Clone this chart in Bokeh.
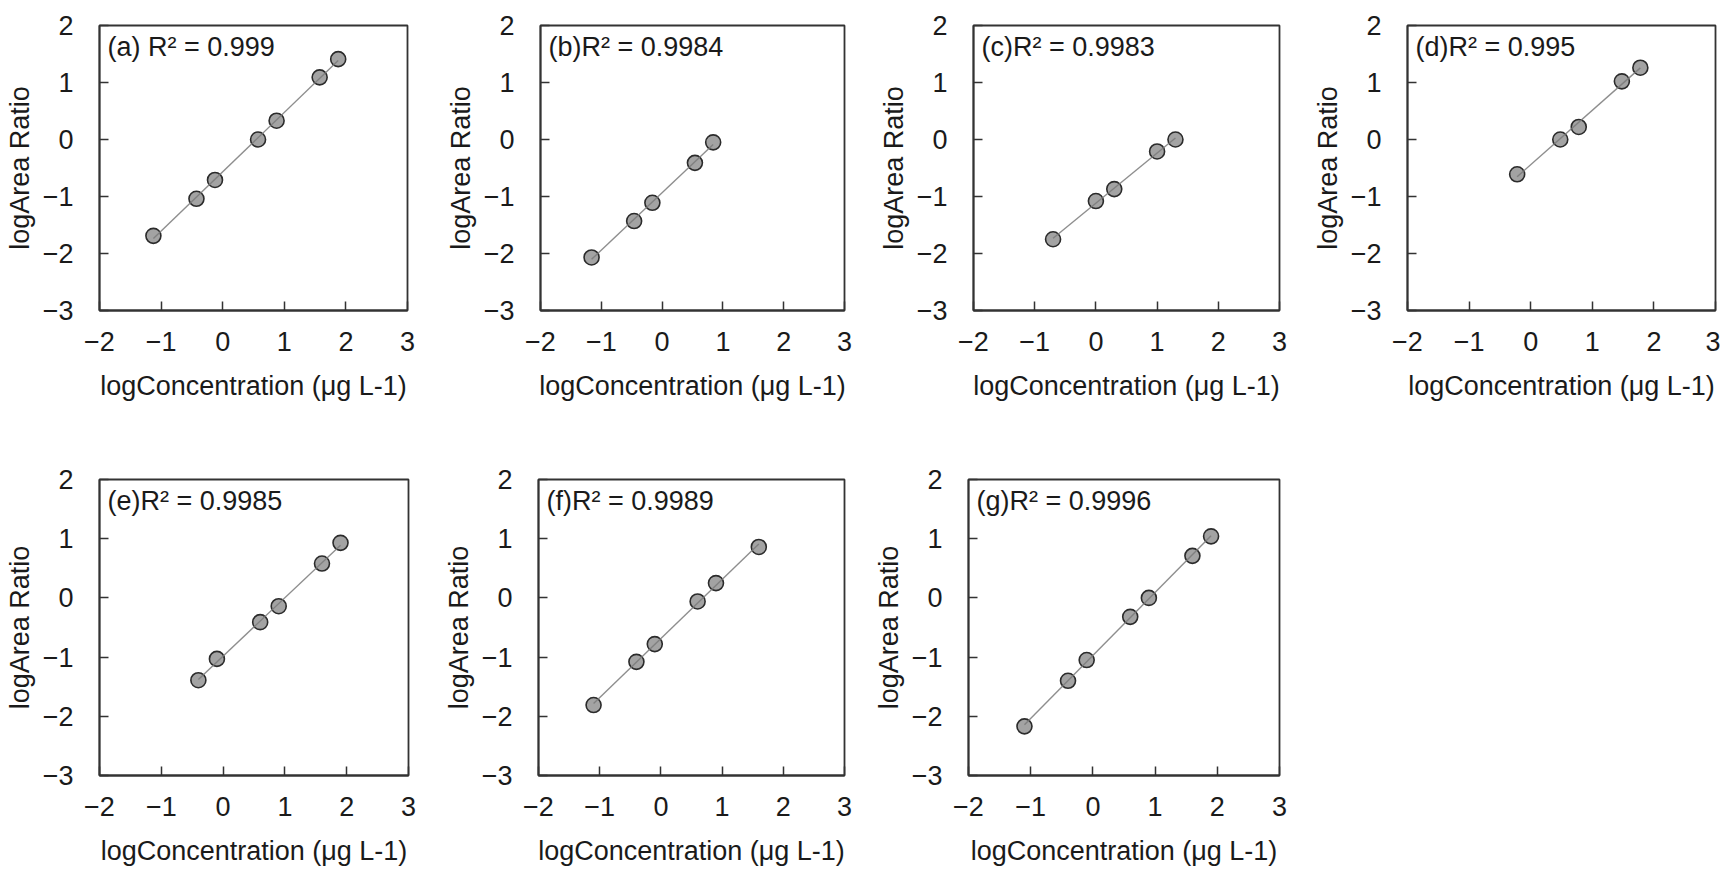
import numpy as np
from bokeh.plotting import figure
from bokeh.layouts import row, column
from bokeh.models import Range1d, FixedTicker, Label
from bokeh.embed import file_html
from bokeh.resources import INLINE

# ---------------- data ----------------
panel_tags = ["(a) R² = 0.999", "(b)R² = 0.9984", "(c)R² = 0.9983", "(d)R² = 0.995",
              "(e)R² = 0.9985", "(f)R² = 0.9989", "(g)R² = 0.9996"]

x_a = [-1.125, -0.426, -0.125, 0.574, 0.875, 1.574, 1.875]
y_a = [-1.69, -1.04, -0.71, 0.00, 0.33, 1.09, 1.41]

x_b = [-1.16, -0.46, -0.16, 0.54, 0.84]
y_b = [-2.07, -1.43, -1.11, -0.41, -0.05]

x_c = [-0.70, 0.00, 0.30, 1.00, 1.30]
y_c = [-1.75, -1.08, -0.87, -0.21, 0.00]

x_d = [-0.22, 0.48, 0.78, 1.48, 1.78]
y_d = [-0.61, 0.00, 0.22, 1.02, 1.26]

x_e = [-0.40, -0.10, 0.60, 0.90, 1.60, 1.90]
y_e = [-1.39, -1.03, -0.41, -0.14, 0.58, 0.93]

x_f = [-1.10, -0.40, -0.10, 0.60, 0.90, 1.60]
y_f = [-1.81, -1.08, -0.78, -0.06, 0.25, 0.86]

x_g = [-1.10, -0.40, -0.10, 0.60, 0.90, 1.60, 1.90]
y_g = [-2.17, -1.40, -1.05, -0.32, 0.00, 0.71, 1.04]

x_ticks = [-2, -1, 0, 1, 2, 3]
y_ticks = [-3, -2, -1, 0, 1, 2]
x_label = "logConcentration (μg L-1)"
y_label = "logArea Ratio"

FONT = "Liberation Sans"
FS = "27px"
TXT = "#1a1a1a"


def make_panel(xs, ys, tag, width, height, left, top, fw, fh):
    right = width - left - fw
    bottom = height - top - fh
    p = figure(width=width, height=height, output_backend="svg", toolbar_location=None,
               x_range=Range1d(-2, 3), y_range=Range1d(-3, 2),
               min_border_left=left, min_border_right=right,
               min_border_top=top, min_border_bottom=bottom,
               background_fill_color="white", border_fill_color="white")
    p.grid.visible = False
    p.outline_line_color = "#333333"
    p.outline_line_width = 1.8

    for ax, ticks, lab in ((p.xaxis[0], x_ticks, x_label), (p.yaxis[0], y_ticks, y_label)):
        ax.ticker = FixedTicker(ticks=ticks)
        ax.minor_tick_line_color = None
        ax.major_tick_in = 9
        ax.major_tick_out = 0
        ax.major_tick_line_color = "#333333"
        ax.major_tick_line_width = 1.5
        ax.axis_line_color = "#333333"
        ax.axis_line_width = 1.8
        ax.major_label_text_font = FONT
        ax.major_label_text_font_size = FS
        ax.major_label_text_color = TXT
        ax.axis_label = lab
        ax.axis_label_text_font = FONT
        ax.axis_label_text_font_size = FS
        ax.axis_label_text_font_style = "normal"
        ax.axis_label_text_color = TXT
    p.xaxis.major_label_standoff = 21
    p.xaxis.axis_label_standoff = 17
    p.yaxis.major_label_standoff = 26
    p.yaxis.axis_label_standoff = 5

    # linear trend line from the data
    k, b = np.polyfit(xs, ys, 1)
    lx = [min(xs), max(xs)]
    ly = [k * v + b for v in lx]

    p.scatter(xs, ys, size=15, marker="circle", fill_color="#a3a3a3",
              line_color="#2b2b2b", line_width=1.6)
    p.line(lx, ly, line_color="#7a7a7a", line_width=1.4, line_alpha=0.85)

    p.add_layout(Label(x=-2, y=2, x_offset=8, y_offset=-6, text=tag,
                       text_baseline="top", text_align="left",
                       text_font=FONT, text_font_size=FS, text_color=TXT))
    return p


H1, H2 = 448, 420
pa = make_panel(x_a, y_a, panel_tags[0], 440, H1, 99, 24, 308, 287)
pb = make_panel(x_b, y_b, panel_tags[1], 432, H1, 100, 25, 304, 285)
pc = make_panel(x_c, y_c, panel_tags[2], 430, H1, 101, 25, 306, 290)
pd = make_panel(x_d, y_d, panel_tags[3], 418, H1, 105, 25, 308, 291)

pe = make_panel(x_e, y_e, panel_tags[4], 440, H2, 99, 31, 309, 304)
pf = make_panel(x_f, y_f, panel_tags[5], 430, H2, 89, 31, 315, 304)
pg = make_panel(x_g, y_g, panel_tags[6], 438, H2, 95, 31, 314, 301)

layout = column(row(pa, pb, pc, pd), row(pe, pf, pg))

open("out.html", "w").write(file_html(layout, INLINE))
